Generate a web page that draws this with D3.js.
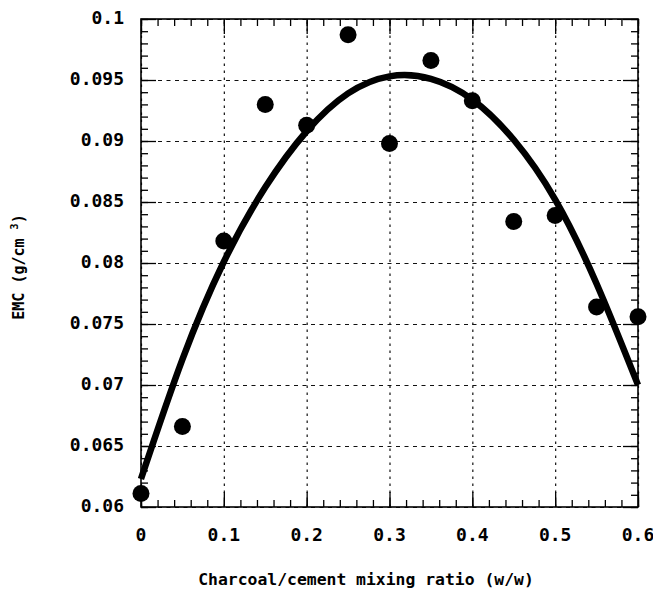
<!DOCTYPE html>
<html>
<head>
<meta charset="utf-8">
<script src="https://cdn.jsdelivr.net/npm/d3@7"></script>
<style>
  body { margin: 0; background: #fff; }
  .lab { font-family: "DejaVu Sans Mono", "Liberation Mono", monospace; font-weight: bold; fill: #000; }
</style>
</head>
<body>
<div id="chart"></div>
<script>
// measured points
var ratio = [0, 0.05, 0.1, 0.15, 0.2, 0.25, 0.3, 0.35, 0.4, 0.45, 0.5, 0.55, 0.6];
var emc = [0.0611, 0.0666, 0.0818, 0.0930, 0.0913, 0.0987, 0.0898, 0.0966, 0.0933, 0.0834, 0.0839, 0.0764, 0.0756];

// fitted curve
var fit_ratio = [0, 0.05, 0.1, 0.15, 0.2, 0.25, 0.3, 0.35, 0.4, 0.45, 0.5, 0.55, 0.6];
var fit_emc = [0.0623, 0.0721, 0.0801, 0.0862, 0.0908, 0.0939, 0.0953, 0.0951, 0.0934, 0.0901, 0.0852, 0.0783, 0.0700];

var x_ticks = [0, 0.1, 0.2, 0.3, 0.4, 0.5, 0.6];
var x_minor = d3.range(0, 0.6001, 0.02);
var y_ticks = [0.06, 0.065, 0.07, 0.075, 0.08, 0.085, 0.09, 0.095, 0.1];
var y_minor = d3.range(0.06, 0.10001, 0.001);

var outer_width = 653, outer_height = 594;
var margin = { top: 19, left: 141, right: 15, bottom: 87 };
var width = outer_width - margin.left - margin.right;
var height = outer_height - margin.top - margin.bottom;

var sx = d3.scaleLinear().domain([0, 0.6]).range([0, width]);
var sy = d3.scaleLinear().domain([0.06, 0.1]).range([height, 0]);

var svg = d3.select('#chart').append('svg')
    .attr('width', outer_width)
    .attr('height', outer_height);

var g = svg.append('g')
    .attr('transform', 'translate(' + margin.left + ', ' + margin.top + ')');

// grid
var gx = g.append('g')
    .attr('transform', 'translate(0, ' + height + ')')
    .call(d3.axisBottom(sx).tickValues(x_ticks).tickSize(-height).tickFormat(''));
gx.selectAll('.tick line')
    .attr('stroke', '#111')
    .attr('stroke-width', 1.2)
    .attr('stroke-dasharray', '2.5,4.5');
var gy = g.append('g')
    .call(d3.axisLeft(sy).tickValues(y_ticks).tickSize(-width).tickFormat(''));
gy.selectAll('.tick line')
    .attr('stroke', '#111')
    .attr('stroke-width', 1.2)
    .attr('stroke-dasharray', '4,4.5');
g.selectAll('.domain').remove();

// inward ticks on all four sides
function ticks(axis, vals, size, tr) {
    var a = g.append('g')
        .attr('transform', tr)
        .call(axis.tickValues(vals).tickSize(-size).tickFormat(''));
    a.select('.domain').remove();
    a.selectAll('.tick line').attr('stroke', '#000').attr('stroke-width', 1.3);
}
ticks(d3.axisBottom(sx), x_minor, 7, 'translate(0,' + height + ')');
ticks(d3.axisBottom(sx), x_ticks, 15, 'translate(0,' + height + ')');
ticks(d3.axisTop(sx), x_minor, 7, 'translate(0,0)');
ticks(d3.axisTop(sx), x_ticks, 15, 'translate(0,0)');
ticks(d3.axisLeft(sy), y_minor, 7, 'translate(0,0)');
ticks(d3.axisLeft(sy), y_ticks, 15, 'translate(0,0)');
ticks(d3.axisRight(sy), y_minor, 7, 'translate(' + width + ',0)');
ticks(d3.axisRight(sy), y_ticks, 15, 'translate(' + width + ',0)');

g.append('rect')
    .attr('width', width)
    .attr('height', height)
    .attr('fill', 'none')
    .attr('stroke', '#000')
    .attr('stroke-width', 1.6);

// tick labels
g.selectAll('.xl').data(x_ticks).enter().append('text')
    .attr('class', 'lab')
    .attr('x', function(d) { return sx(d); })
    .attr('y', height + 34)
    .attr('text-anchor', 'middle')
    .attr('font-size', 18)
    .text(function(d) { return d3.format('')(+d.toFixed(2)); });
g.selectAll('.yl').data(y_ticks).enter().append('text')
    .attr('class', 'lab')
    .attr('x', -17)
    .attr('y', function(d) { return sy(d) + 5; })
    .attr('text-anchor', 'end')
    .attr('font-size', 18)
    .text(function(d) { return d3.format('')(+d.toFixed(3)); });

// fitted curve
var line = d3.line()
    .x(function(d, i) { return sx(fit_ratio[i]); })
    .y(function(d) { return sy(d); })
    .curve(d3.curveNatural);
g.append('path')
    .attr('d', line(fit_emc))
    .attr('fill', 'none')
    .attr('stroke', '#000')
    .attr('stroke-width', 6.5);

// data points
g.selectAll('.pt').data(emc).enter().append('circle')
    .attr('cx', function(d, i) { return sx(ratio[i]); })
    .attr('cy', function(d) { return sy(d); })
    .attr('r', 8.5)
    .attr('fill', '#000');

// axis titles
svg.append('text')
    .attr('class', 'lab')
    .attr('x', 366)
    .attr('y', 585)
    .attr('text-anchor', 'middle')
    .attr('font-size', 16.4)
    .text('Charcoal/cement mixing ratio (w/w)');

var yt = svg.append('text')
    .attr('class', 'lab')
    .attr('transform', 'translate(24, 267) rotate(-90)')
    .attr('text-anchor', 'middle')
    .attr('font-size', 15);
yt.append('tspan').text('EMC (g/cm ');
yt.append('tspan').attr('font-size', 10).attr('dy', -6).text('3');
yt.append('tspan').attr('dy', 6).text(')');
</script>
</body>
</html>
